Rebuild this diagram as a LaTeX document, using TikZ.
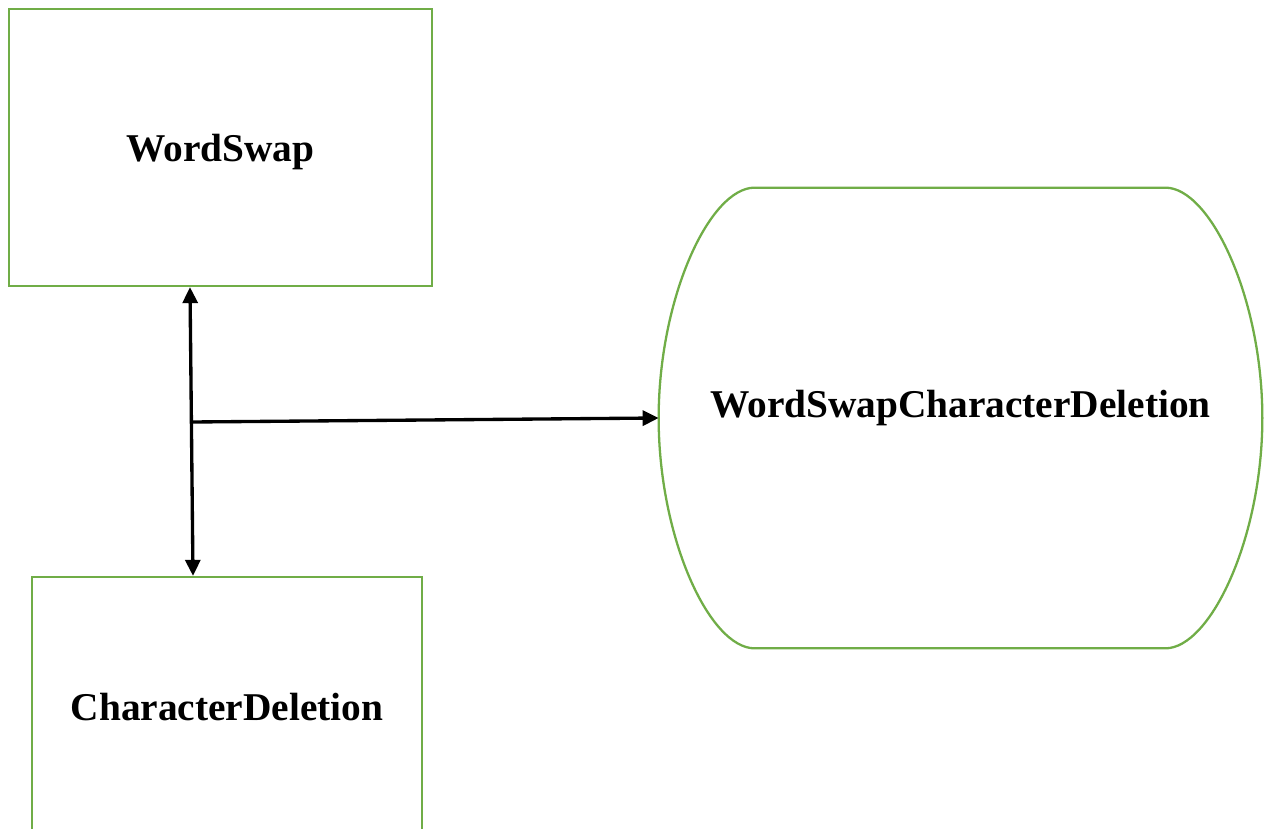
\documentclass[tikz,border=0pt]{standalone}
\usepackage{fontspec}
\setmainfont{Liberation Serif}
\usetikzlibrary{arrows.meta, positioning, calc}
\definecolor{boxgreen}{RGB}{112,173,71}
\tikzset{
  opbox/.style={
    rectangle, draw=boxgreen, line width=1.3pt,
    font=\fontsize{22.4}{26}\selectfont\bfseries
  },
  oplabel/.style={font=\fontsize{22.4}{26}\selectfont\bfseries},
  linkarrow/.style={line width=1.9pt, black,
    -{Triangle[length=0.32cm,width=0.3cm]}},
}
\begin{document}
\begin{tikzpicture}
  \clip (0,0) rectangle (25.42,-16.58);
  \node[opbox,minimum width=8.46cm,minimum height=5.54cm](ws)at(4.41,-2.95){};
  \node[oplabel](wstext)at([yshift=-0.1cm]ws.center){WordSwap};
  \node[opbox,minimum width=7.8cm,minimum height=5.2cm](cd)at(4.54,-14.14){CharacterDeletion};
  \node[minimum width=12.06cm,minimum height=9.2cm,inner sep=0pt](wscd)at(19.21,-8.36){};
  \draw[boxgreen,line width=1.3pt]
    (wscd.west) .. controls +(0,2.4) and +(-0.9,0) .. ([xshift=1.92cm]wscd.north west)
    -- ([xshift=-1.94cm]wscd.north east)
    .. controls +(0.9,0) and +(0,2.4) .. (wscd.east)
    .. controls +(0,-2.4) and +(0.9,0) .. ([xshift=-1.94cm]wscd.south east)
    -- ([xshift=1.92cm]wscd.south west)
    .. controls +(-0.9,0) and +(0,-2.4) .. cycle;
  \node[oplabel](wscdtext)at([yshift=0.2cm]wscd.center){WordSwapCharacterDeletion};
  \coordinate(j)at(3.86,-8.44);
  \draw[linkarrow,{Triangle[length=0.32cm,width=0.3cm]}-{Triangle[length=0.32cm,width=0.3cm]}]
       ([xshift=-0.61cm]ws.south)--([xshift=-0.68cm]cd.north);
  \draw[linkarrow](j)--(wscd.west);
\end{tikzpicture}
\end{document}
